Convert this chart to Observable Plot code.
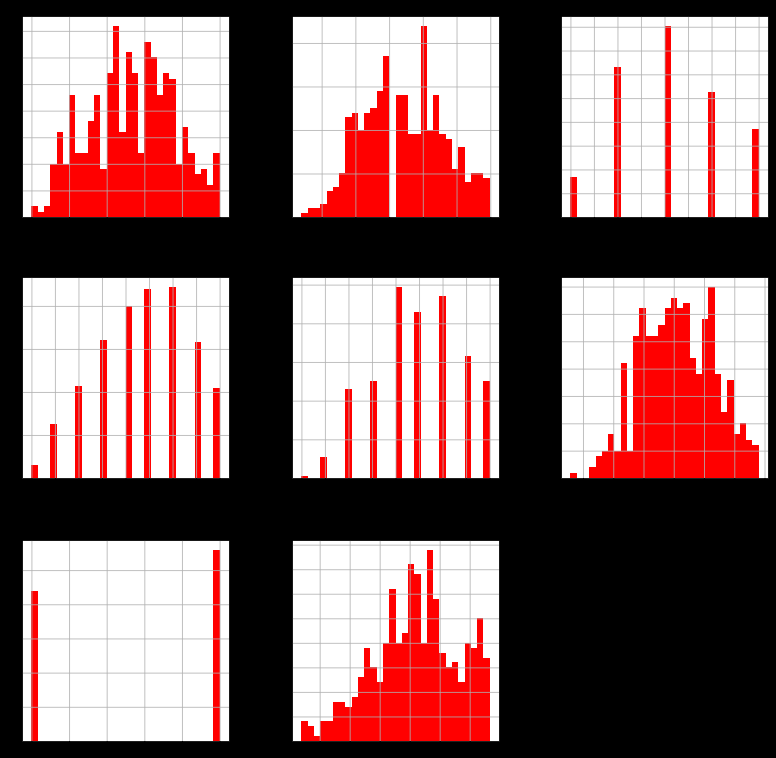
<!DOCTYPE html>
<html><head><meta charset="utf-8">
<script src="https://cdn.jsdelivr.net/npm/d3@7"></script>
<script src="https://cdn.jsdelivr.net/npm/@observablehq/plot@0.6"></script>
<style>
html,body{margin:0;padding:0;background:#000;}
#root{position:relative;width:776px;height:758px;background:#000;color:#000;overflow:hidden;font-family:"DejaVu Sans",sans-serif;}
#root svg{position:absolute;}
</style></head><body><div id="root"></div>
<script>
// 30-bin histogram counts for each of the 8 columns (n = 500 each)
const counts1 = [2,1,2,10,16,10,23,12,12,18,23,9,27,36,16,31,27,12,33,30,23,27,26,10,17,12,8,9,6,12];
const counts2 = [1,2,2,3,6,7,10,23,24,20,24,25,29,37,0,28,28,19,19,44,20,28,19,18,11,16,8,10,10,9];
const counts3 = [34,0,0,0,0,0,0,126,0,0,0,0,0,0,0,161,0,0,0,0,0,0,105,0,0,0,0,0,0,74];
const counts4 = [6,0,0,25,0,0,0,43,0,0,0,64,0,0,0,80,0,0,88,0,0,0,89,0,0,0,63,0,0,42];
const counts5 = [1,0,0,11,0,0,0,46,0,0,0,50,0,0,0,99,0,0,86,0,0,0,94,0,0,0,63,0,0,50];
const counts6 = [1,0,0,2,4,5,8,5,21,5,26,31,26,26,28,31,33,31,32,22,19,29,35,19,12,18,8,10,7,6];
const counts7 = [220,0,0,0,0,0,0,0,0,0,0,0,0,0,0,0,0,0,0,0,0,0,0,0,0,0,0,0,0,280];
const counts8 = [4,3,1,4,4,8,8,7,9,13,19,15,12,20,31,20,22,36,34,20,39,29,18,15,16,12,20,19,25,17];

// data ranges (min, max) of each column
const ranges = [[0,1],[-0.12,0.996],[0,4],[0,8],[0,8],[-0.0416,0.5804],[0,1],[-0.1218,1.1327]];
// tick steps of the x and y axes
const xSteps = [0.2,0.2,0.5,1,1,0.1,0.2,0.2];
const ySteps = [5,10,20,20,20,5,50,5];

const allCounts = [counts1,counts2,counts3,counts4,counts5,counts6,counts7,counts8];

const colX = [22, 292, 561];
const rowY = [16, 277, 540];
const frameW = 207, frameH = 201;
const mL = 24, mR = 4, mT = 4, mB = 14;
const root = document.getElementById("root");

allCounts.forEach((counts, i) => {
  const [lo, hi] = ranges[i];
  const n = counts.length;
  const bw = (hi - lo) / n;
  const bins = counts.map((c, k) => ({x1: lo + k * bw, x2: lo + (k + 1) * bw, count: c}));
  const pad = 0.05 * (hi - lo);
  const ymax = d3.max(counts) * 1.05;
  const xs = xSteps[i];
  const xt = d3.range(Math.ceil((lo - pad) / xs - 1e-9), Math.floor((hi + pad) / xs + 1e-9) + 1).map(k => +(k * xs).toFixed(6));
  const yt = d3.range(0, ymax + 1e-9, ySteps[i]);
  const chart = Plot.plot({
    width: frameW + mL + mR, height: frameH + mT + mB,
    marginLeft: mL, marginRight: mR, marginTop: mT, marginBottom: mB,
    x: {domain: [lo - pad, hi + pad], label: null},
    y: {domain: [0, ymax], label: null},
    style: {background: "transparent", color: "black", fontSize: "7px"},
    marks: [
      Plot.frame({fill: "white", stroke: null}),
      Plot.rectY(bins, {x1: "x1", x2: "x2", y: "count", fill: "#ff0000", inset: 0, shapeRendering: "crispEdges"}),
      Plot.gridX(xt, {stroke: "#b0b0b0", strokeOpacity: 1, strokeWidth: 0.8}),
      Plot.gridY(yt, {stroke: "#b0b0b0", strokeOpacity: 1, strokeWidth: 0.8}),
      Plot.axisX(xt, {stroke: "black", fill: "black", tickSize: 3, tickPadding: 1, fontSize: 7, label: null}),
      Plot.axisY(yt, {stroke: "black", fill: "black", tickSize: 3, tickPadding: 1, fontSize: 7, label: null}),
      Plot.frame({stroke: "black", strokeWidth: 0.8})
    ]
  });
  chart.style.left = (colX[i % 3] - mL) + "px";
  chart.style.top = (rowY[Math.floor(i / 3)] - mT) + "px";
  root.appendChild(chart);
});
</script></body></html>
